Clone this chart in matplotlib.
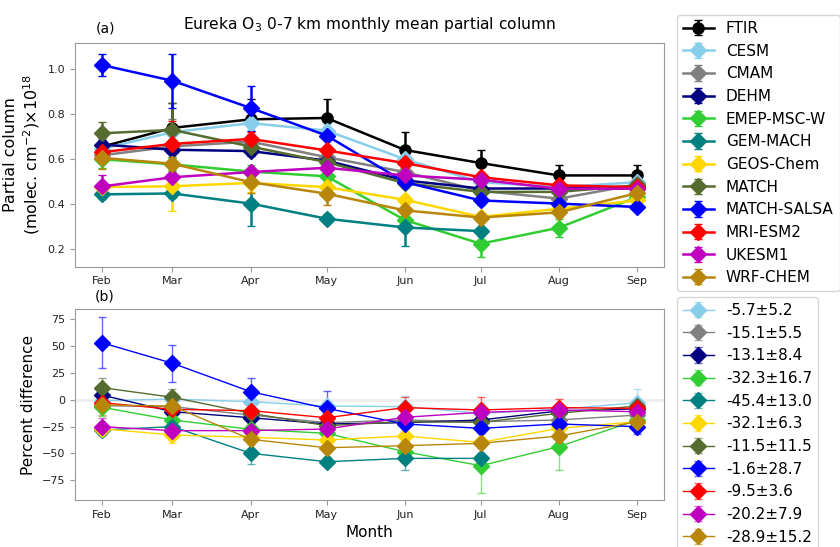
import numpy as np
import matplotlib
matplotlib.use("Agg")
import matplotlib.pyplot as plt
import matplotlib.dates as mdates

nan = np.nan
months = ["2019-02-15", "2019-03-15", "2019-04-15", "2019-05-15",
          "2019-06-15", "2019-07-15", "2019-08-15", "2019-09-15"]

models = ["CESM", "CMAM", "DEHM", "EMEP-MSC-W", "GEM-MACH", "GEOS-Chem",
          "MATCH", "MATCH-SALSA", "MRI-ESM2", "UKESM1", "WRF-CHEM"]
colors = ["skyblue", "gray", "navy", "limegreen", "teal", "gold",
          "darkolivegreen", "blue", "red", "m", "darkgoldenrod"]

ftir_pc = [0.655, 0.739, 0.777, 0.783, 0.641, 0.583, 0.528, 0.528]
ftir_err = [0.04, 0.11, 0.09, 0.085, 0.08, 0.06, 0.045, 0.045]

cesm_pc = [0.646, 0.72, 0.76, 0.727, 0.60, 0.498, 0.476, 0.498]
cmam_pc = [0.617, 0.657, 0.678, 0.609, 0.543, 0.46, 0.425, 0.488]
dehm_pc = [0.665, 0.642, 0.636, 0.594, 0.506, 0.47, 0.47, 0.478]
emep_pc = [0.60, 0.577, 0.545, 0.524, 0.33, 0.225, 0.296, 0.432]
gem_pc = [0.444, 0.448, 0.403, 0.336, 0.297, 0.281, nan, nan]
geos_pc = [0.476, 0.48, 0.495, 0.476, 0.42, 0.344, 0.38, 0.417]
match_pc = [0.715, 0.73, 0.656, 0.587, 0.494, 0.455, 0.455, 0.484]
salsa_pc = [1.018, 0.948, 0.827, 0.705, 0.498, 0.417, 0.403, 0.388]
mri_pc = [0.631, 0.668, 0.69, 0.639, 0.583, 0.52, 0.484, 0.476]
ukesm_pc = [0.479, 0.52, 0.543, 0.562, 0.528, 0.509, 0.469, 0.469]
wrf_pc = [0.606, 0.58, 0.498, 0.447, 0.373, 0.341, 0.364, 0.45]

cesm_pe = [0.02, 0.03, 0.03, 0.03, 0.02, 0.02, 0.02, 0.02]
cmam_pe = [0.02, 0.12, 0.03, 0.02, 0.02, 0.02, 0.02, 0.02]
dehm_pe = [0.02, 0.02, 0.02, 0.02, 0.02, 0.02, 0.02, 0.02]
emep_pe = [0.04, 0.03, 0.03, 0.03, 0.03, 0.06, 0.04, 0.03]
gem_pe = [0.02, 0.02, 0.10, 0.02, 0.08, 0.02, nan, nan]
geos_pe = [0.02, 0.11, 0.04, 0.04, 0.02, 0.02, 0.02, 0.02]
match_pe = [0.05, 0.12, 0.03, 0.02, 0.02, 0.02, 0.02, 0.02]
salsa_pe = [0.05, 0.12, 0.10, 0.02, 0.02, 0.02, 0.02, 0.02]
mri_pe = [0.02, 0.10, 0.03, 0.02, 0.02, 0.02, 0.02, 0.02]
ukesm_pe = [0.05, 0.02, 0.02, 0.02, 0.02, 0.02, 0.02, 0.02]
wrf_pe = [0.05, 0.03, 0.05, 0.05, 0.02, 0.02, 0.02, 0.02]

cesm_pd = [-1.0, 0.6, -1.9, -5.9, -6.5, -12.7, -9.0, -2.8]
cmam_pd = [-5.6, -6.5, -14.3, -21.4, -18.9, -20.5, -18.9, -14.3]
dehm_pd = [4.3, -11.2, -16.8, -22.6, -21.4, -18.9, -10.5, -8.5]
emep_pd = [-7.1, -18.9, -27.6, -31.3, -48.4, -61.4, -43.7, -18.9]
gem_pd = [-28.2, -25.1, -49.9, -57.7, -54.6, -54.6, nan, nan]
geos_pd = [-27.0, -32.9, -35.0, -37.5, -33.8, -39.7, -26.7, -20.5]
match_pd = [11.2, 2.2, -12.7, -24.2, -20.5, -21.1, -12.7, -5.9]
salsa_pd = [53.0, 33.8, 7.4, -8.1, -22.6, -26.7, -22.6, -25.1]
mri_pd = [-2.8, -9.0, -10.2, -16.8, -7.4, -9.6, -7.4, -8.1]
ukesm_pd = [-25.1, -28.8, -28.8, -27.3, -16.4, -11.8, -9.6, -11.2]
wrf_pd = [-5.0, -5.9, -36.9, -44.7, -42.8, -40.6, -33.8, -20.5]

cesm_de = [3, 6, 3, 4, 10, 10, 5, 13]
cmam_de = [4, 6, 4, 4, 5, 5, 4, 5]
dehm_de = [4, 5, 4, 4, 4, 4, 4, 4]
emep_de = [8, 5, 5, 5, 10, 25, 22, 4]
gem_de = [5, 5, 10, 4, 11, 5, nan, nan]
geos_de = [4, 7, 5, 4, 4, 4, 4, 4]
match_de = [9, 8, 5, 4, 4, 4, 4, 4]
salsa_de = [24, 17, 13, 16, 4, 4, 4, 7]
mri_de = [4, 5, 4, 4, 10, 12, 8, 4]
ukesm_de = [8, 4, 4, 4, 4, 4, 4, 4]
wrf_de = [9, 5, 5, 5, 4, 4, 4, 4]

pd_labels = ["-5.7\u00b15.2", "-15.1\u00b15.5", "-13.1\u00b18.4", "-32.3\u00b116.7",
             "-45.4\u00b113.0", "-32.1\u00b16.3", "-11.5\u00b111.5", "-1.6\u00b128.7",
             "-9.5\u00b13.6", "-20.2\u00b17.9", "-28.9\u00b115.2"]

pc_list = [cesm_pc, cmam_pc, dehm_pc, emep_pc, gem_pc, geos_pc, match_pc,
           salsa_pc, mri_pc, ukesm_pc, wrf_pc]
pe_list = [cesm_pe, cmam_pe, dehm_pe, emep_pe, gem_pe, geos_pe, match_pe,
           salsa_pe, mri_pe, ukesm_pe, wrf_pe]
pd_list = [cesm_pd, cmam_pd, dehm_pd, emep_pd, gem_pd, geos_pd, match_pd,
           salsa_pd, mri_pd, ukesm_pd, wrf_pd]
de_list = [cesm_de, cmam_de, dehm_de, emep_de, gem_de, geos_de, match_de,
           salsa_de, mri_de, ukesm_de, wrf_de]

dates = np.array(months, dtype="datetime64[D]").astype("O")

fig = plt.figure(figsize=(8.4, 5.47), dpi=100)
W, H = 840.0, 547.0
ax1 = fig.add_axes([75 / W, 1 - 266.7 / H, 589 / W, 224 / H])
ax2 = fig.add_axes([75 / W, 1 - 500 / H, 589 / W, 191 / H])

spine_col = "#999999"
for ax in (ax1, ax2):
    for s in ax.spines.values():
        s.set_color(spine_col)
    ax.tick_params(colors=spine_col, labelcolor="#222222", labelsize=8)

ms = 8
h_top = []
e = ax1.errorbar(dates, ftir_pc, yerr=ftir_err, color="black", marker="o",
                 ms=ms, lw=1.8, capsize=3, label="FTIR")
h_top.append(e)
for name, col, pc, pe in zip(models, colors, pc_list, pe_list):
    e = ax1.errorbar(dates, pc, yerr=pe, color=col, marker="D", ms=ms,
                     lw=1.8, capsize=3, label=name)
    h_top.append(e)

ax1.set_ylim(0.123, 1.117)
ax1.set_yticks([0.2, 0.4, 0.6, 0.8, 1.0])
ax1.set_title("Eureka O$_3$ 0-7 km monthly mean partial column", fontsize=11.2, pad=10)
ax1.text(0.051, 1.045, "(a)", transform=ax1.transAxes, fontsize=10, ha="center")
ax1.set_ylabel("Partial column\n(molec. cm$^{-2}$)\u00d710$^{18}$", fontsize=11.5)

ax2.axhline(0, color="#eeeeee", lw=2, zorder=0)
h_bot = []
for lab, col, pdv, de in zip(pd_labels, colors, pd_list, de_list):
    e = ax2.errorbar(dates, pdv, yerr=de, color=col, marker="D", ms=ms,
                     lw=1.0, elinewidth=1.0, capsize=3, label=lab)
    for c in e[1]:
        c.set_alpha(0.6)
    for c in e[2]:
        c.set_alpha(0.6)
    h_bot.append(e)

ax2.set_ylim(-93.3, 84.3)
ax2.set_yticks([-75, -50, -25, 0, 25, 50, 75])
ax2.text(0.051, 1.047, "(b)", transform=ax2.transAxes, fontsize=10, ha="center")
ax2.set_ylabel("Percent difference", fontsize=11)
ax2.set_xlabel("Month", fontsize=11)

for ax in (ax1, ax2):
    ax.set_xticks(dates)
    ax.xaxis.set_major_formatter(mdates.DateFormatter("%b"))

fig.legend(handles=h_top, loc="upper left", bbox_to_anchor=(677 / W, 1 - 15 / H),
           borderaxespad=0, fontsize=11)
fig.legend(handles=h_bot, loc="upper left", bbox_to_anchor=(677 / W, 1 - 297 / H),
           borderaxespad=0, fontsize=11)

fig.savefig("out.png", dpi=100)
